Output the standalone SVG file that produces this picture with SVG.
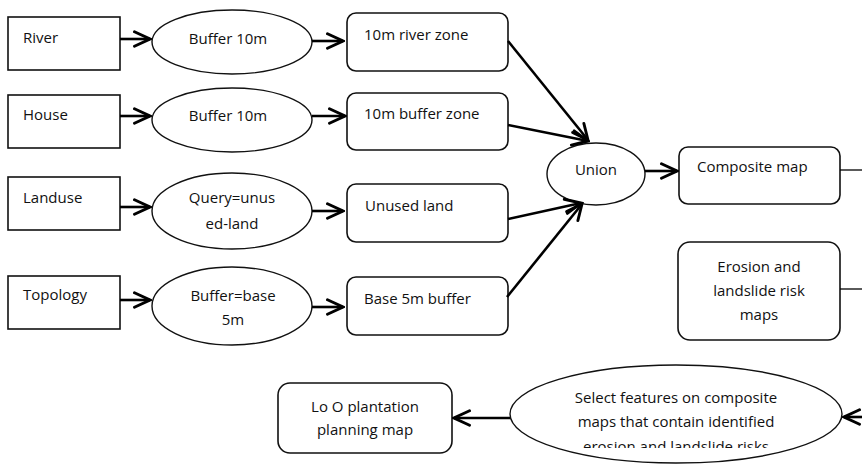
<svg xmlns="http://www.w3.org/2000/svg" width="862" height="464" viewBox="0 0 862 464">
<style>
text{font-family:"Open Sans","Liberation Sans",sans-serif;font-size:15px;fill:#111}
.c{text-anchor:middle}
.box{fill:#fff;stroke:#111;stroke-width:1.6}
.ell{fill:#fff;stroke:#111;stroke-width:1.4}
.ln{fill:none;stroke:#000;stroke-width:2.6}
.thin{fill:none;stroke:#000;stroke-width:1.3}
</style>
<defs>
<marker id="ah" markerUnits="userSpaceOnUse" markerWidth="20" markerHeight="20" viewBox="-16 -8 18 16" refX="0" refY="0" orient="auto">
<path d="M-14,-6.5 L0,0 L-14,6.5" fill="none" stroke="#000" stroke-width="2.6" stroke-linecap="round" stroke-linejoin="miter"/>
</marker>
<clipPath id="cl"><rect x="500" y="360" width="360" height="88"/></clipPath>
</defs>

<g id="river"><rect class="box" x="8" y="17" width="112" height="53"/><text x="23" y="43">River</text></g>
<g id="house"><rect class="box" x="8" y="95" width="112" height="53"/><text x="23" y="120">House</text></g>
<g id="landuse"><rect class="box" x="8" y="177" width="112" height="53"/><text x="23" y="203">Landuse</text></g>
<g id="topology"><rect class="box" x="8" y="276" width="112" height="53"/><text x="23" y="300">Topology</text></g>

<g id="buffer1"><ellipse class="ell" cx="232" cy="42" rx="80" ry="32"/><text class="c" x="228" y="44">Buffer 10m</text></g>
<g id="buffer2"><ellipse class="ell" cx="232" cy="120" rx="80" ry="32"/><text class="c" x="228" y="121">Buffer 10m</text></g>
<g id="query"><ellipse class="ell" cx="232" cy="211" rx="80" ry="38"/><text class="c" x="232" y="203">Query=unus</text><text class="c" x="232" y="229">ed-land</text></g>
<g id="bufferbase"><ellipse class="ell" cx="232" cy="306" rx="80" ry="39"/><text class="c" x="233" y="301">Buffer=base</text><text class="c" x="233" y="325">5m</text></g>

<g id="riverzone"><rect class="box" x="347" y="13" width="161" height="58" rx="9"/><text x="364" y="40">10m river zone</text></g>
<g id="bufferzone"><rect class="box" x="347" y="93" width="161" height="57" rx="9"/><text x="364" y="119">10m buffer zone</text></g>
<g id="unused"><rect class="box" x="347" y="184" width="161" height="58" rx="9"/><text x="365" y="211">Unused land</text></g>
<g id="base5m"><rect class="box" x="347" y="277" width="161" height="58" rx="9"/><text x="364" y="304">Base 5m buffer</text></g>

<g id="union"><ellipse class="ell" cx="596" cy="174" rx="49" ry="31"/><text class="c" x="596" y="175">Union</text></g>
<g id="composite"><rect class="box" x="679" y="147" width="161" height="57" rx="9"/><text x="697" y="172">Composite map</text></g>
<g id="erosion"><rect class="box" x="678" y="242" width="162" height="98" rx="12"/><text class="c" x="759" y="272">Erosion and</text><text class="c" x="759" y="296">landslide risk</text><text class="c" x="759" y="320">maps</text></g>

<g id="select"><ellipse class="ell" cx="676" cy="414" rx="166" ry="49"/>
<text class="c" x="676" y="403">Select features on composite</text>
<text class="c" x="676" y="427">maps that contain identified</text>
<text class="c" x="676" y="452" clip-path="url(#cl)">erosion and landslide risks</text></g>
<g id="plantation"><rect class="box" x="278" y="383" width="174" height="70" rx="12"/><text class="c" x="365" y="412">Lo O plantation</text><text class="c" x="365" y="435">planning map</text></g>

<g id="connectors">
<line class="ln" x1="120" y1="39" x2="150" y2="39" marker-end="url(#ah)"/>
<line class="ln" x1="120" y1="116" x2="150" y2="116" marker-end="url(#ah)"/>
<line class="ln" x1="120" y1="207" x2="150" y2="207" marker-end="url(#ah)"/>
<line class="ln" x1="120" y1="300" x2="150" y2="300" marker-end="url(#ah)"/>
<line class="ln" x1="312" y1="41" x2="343" y2="41" marker-end="url(#ah)"/>
<line class="ln" x1="312" y1="116" x2="345" y2="116" marker-end="url(#ah)"/>
<line class="ln" x1="312" y1="211" x2="343" y2="211" marker-end="url(#ah)"/>
<line class="ln" x1="312" y1="307" x2="343" y2="307" marker-end="url(#ah)"/>
<line class="ln" x1="508" y1="41" x2="588" y2="140" marker-end="url(#ah)"/>
<line class="ln" x1="508" y1="125" x2="588" y2="141" marker-end="url(#ah)"/>
<line class="ln" x1="508" y1="219" x2="581" y2="203" marker-end="url(#ah)"/>
<line class="ln" x1="507" y1="297" x2="582" y2="204" marker-end="url(#ah)"/>
<line class="ln" x1="645" y1="171" x2="677" y2="171" marker-end="url(#ah)"/>
<line class="thin" x1="840" y1="170" x2="862" y2="170"/>
<line class="thin" x1="840" y1="289" x2="862" y2="289"/>
<line class="ln" x1="862" y1="417" x2="844" y2="417" marker-end="url(#ah)"/>
<line class="ln" x1="510" y1="418" x2="454" y2="418" marker-end="url(#ah)"/>
</g>
</svg>
